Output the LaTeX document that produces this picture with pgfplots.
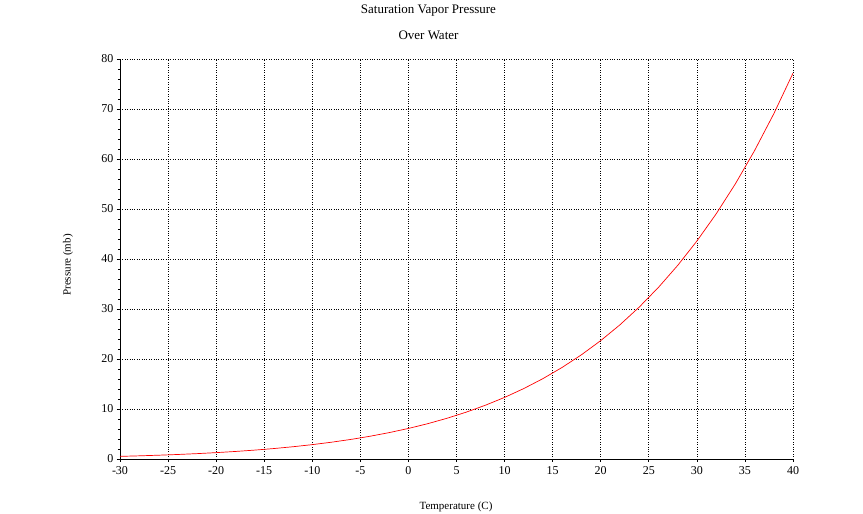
\documentclass[border=0pt]{standalone}
\usepackage{fontspec}
\setmainfont{Liberation Serif}
\usepackage{pgfplots}
\pgfplotsset{compat=1.18}
\begin{document}
\begin{tikzpicture}[x=1pt,y=1pt]
\useasboundingbox (-120,-55) rectangle (743,459);
\begin{axis}[
  at={(0,0)}, anchor=south west,
  scale only axis, width=673pt, height=400pt,
  xmin=-30, xmax=40, ymin=0, ymax=80,
  axis x line=bottom, axis y line=left,
  axis line style={-, black, line width=0.8pt},
  xtick={-30,-25,...,40}, ytick={0,10,...,80},
  minor y tick num=4,
  tick align=outside,
  major tick length=3pt, minor tick length=2pt,
  tick style={black, line width=0.6pt},
  grid=major,
  major grid style={black, dotted, line width=0.6pt},
  ticklabel style={font=\fontsize{12}{14}\selectfont},
  /pgf/number format/assume math mode=true,
  xticklabel style={yshift=-1pt},
  clip=false,
]
\addplot[red, line width=0.7pt] coordinates {
(-30,0.527) (-28,0.633) (-26,0.757) (-24,0.903) (-22,1.073) (-20,1.273)
(-18,1.506) (-16,1.777) (-14,2.090) (-12,2.454) (-10,2.873) (-8,3.357)
(-6,3.912) (-4,4.549) (-2,5.277) (0,6.110) (2,7.058) (4,8.137)
(6,9.362) (8,10.749) (10,12.318) (12,14.089) (14,16.085) (16,18.330)
(18,20.850) (20,23.676) (22,26.837) (24,30.371) (26,34.312) (28,38.701)
(30,43.581) (32,49.002) (34,55.015) (36,61.671) (38,69.037) (40,77.167)
};
\end{axis}
\node[font=\fontsize{13}{15}\selectfont] at (308.5,448) {Saturation Vapor Pressure};
\node[font=\fontsize{13}{15}\selectfont] at (308.5,424) {Over Water};
\node[font=\fontsize{11}{13}\selectfont] at (336,-48) {Temperature (C)};
\node[font=\fontsize{11}{13}\selectfont, rotate=90] at (-52,194) {Pressure (mb)};
\end{tikzpicture}
\end{document}
